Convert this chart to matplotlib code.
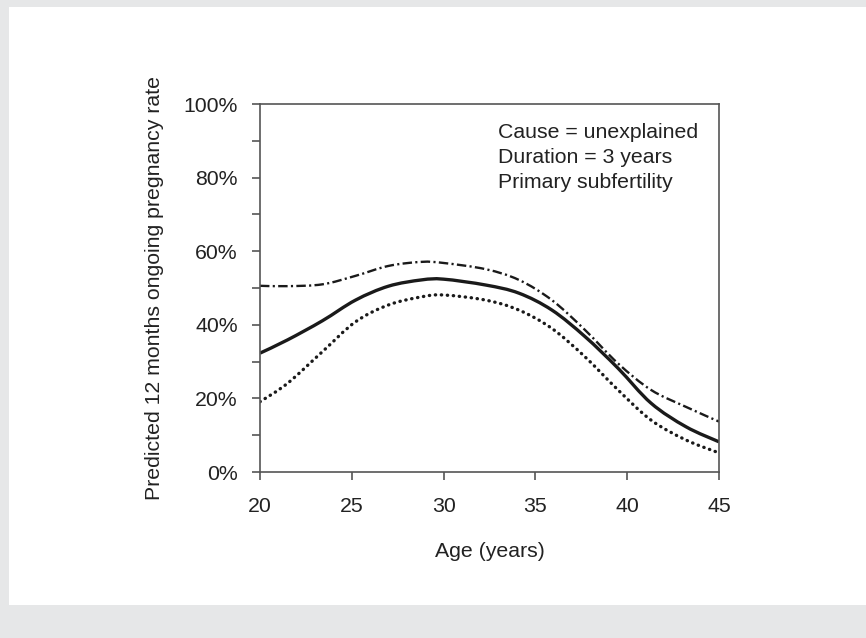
import numpy as np
import matplotlib.pyplot as plt
from matplotlib.patches import Rectangle, PathPatch
from matplotlib.path import Path

# Edad (años) y tasa predicha (%)
edad = [20, 21.5, 23.4, 25.2, 27, 28.8, 30, 32.3, 34.1, 35.9, 37.7, 39.5, 41.3, 43.2, 45]
tasa_media = [32.3, 35.9, 41.1, 46.7, 50.5, 52.2, 52.4, 50.8, 48.6, 44.0, 36.8, 28.2, 18.7, 12.3, 8.2]
tasa_baja = [19.1, 24.1, 32.7, 40.8, 45.4, 47.6, 48.1, 46.7, 44.0, 39.0, 31.3, 22.3, 14.1, 8.7, 5.2]
tasa_alta = [50.6, 50.5, 51.0, 53.3, 56.0, 57.1, 56.8, 55.1, 52.2, 46.7, 38.6, 29.5, 22.3, 17.7, 13.7]

x_ticks = [20, 25, 30, 35, 40, 45]
y_ticks = list(range(0, 101, 10))
y_labels = [f"{v}%" if v % 20 == 0 else "" for v in y_ticks]
notas = ["Cause = unexplained", "Duration = 3 years", "Primary subfertility"]


def linea_suave(x, y):
    # curva suavizada tipo Excel (Catmull-Rom a Bezier)
    p = np.column_stack([x, y]).astype(float)
    n = len(p)
    verts = [p[0]]
    codes = [Path.MOVETO]
    for i in range(n - 1):
        p0 = p[i - 1] if i > 0 else p[i]
        p3 = p[i + 2] if i + 2 < n else p[i + 1]
        c1 = p[i] + (p[i + 1] - p0) / 6
        c2 = p[i + 1] - (p3 - p[i]) / 6
        verts += [c1, c2, p[i + 1]]
        codes += [Path.CURVE4] * 3
    return Path(verts, codes)


plt.rcParams['font.family'] = ['Liberation Sans', 'DejaVu Sans']
W, H = 866, 638
fig = plt.figure(figsize=(W / 100, H / 100), dpi=100)
fig.patch.set_facecolor('#e6e7e8')
fondo = Rectangle((9 / W, 1 - 605 / H), 1, (605 - 7) / H,
                  transform=fig.transFigure, facecolor='white',
                  edgecolor='none', zorder=-10)
fig.add_artist(fondo)

ax = fig.add_axes([260 / W, 1 - 472 / H, (719 - 260) / W, (472 - 104) / H])
ax.set_zorder(5)
ax.set_facecolor('white')

ax.add_patch(PathPatch(linea_suave(edad, tasa_alta), fill=False, edgecolor='#1a1a1a',
                       lw=1.7, linestyle=(0, (4.0, 1.4, 0.9, 1.4))))
ax.add_patch(PathPatch(linea_suave(edad, tasa_media), fill=False, edgecolor='#1a1a1a',
                       lw=2.4, capstyle='butt'))
ax.add_patch(PathPatch(linea_suave(edad, tasa_baja), fill=False, edgecolor='#1a1a1a',
                       lw=2.4, linestyle=(0, (0.1, 1.7)), capstyle='round'))

ax.set_xlim(20, 45)
ax.set_ylim(0, 100)
ax.set_xticks(x_ticks)
ax.set_xticklabels([str(v) for v in x_ticks])
ax.set_yticks(y_ticks)
ax.set_yticklabels(y_labels)

for s in ax.spines.values():
    s.set_color('#555555')
    s.set_linewidth(1.2)
ax.tick_params(axis='both', direction='out', length=6, width=1.2, color='#555555',
               labelsize=15.3, labelcolor='#222222')
ax.tick_params(axis='y', pad=10)
ax.tick_params(axis='x', pad=12)

ax.set_xlabel('Age (years)', fontsize=15.3, color='#222222', labelpad=19)
ax.set_ylabel('Predicted 12 months ongoing pregnancy rate', fontsize=15.3,
              color='#222222', labelpad=14)

for i, t in enumerate(notas):
    fig.text(498 / W, 1 - (133 + i * 24.5) / H, t, fontsize=15.3, color='#222222',
             va='center', ha='left', zorder=10)

plt.savefig('out.png', dpi=100, facecolor=fig.get_facecolor())
plt.close()
